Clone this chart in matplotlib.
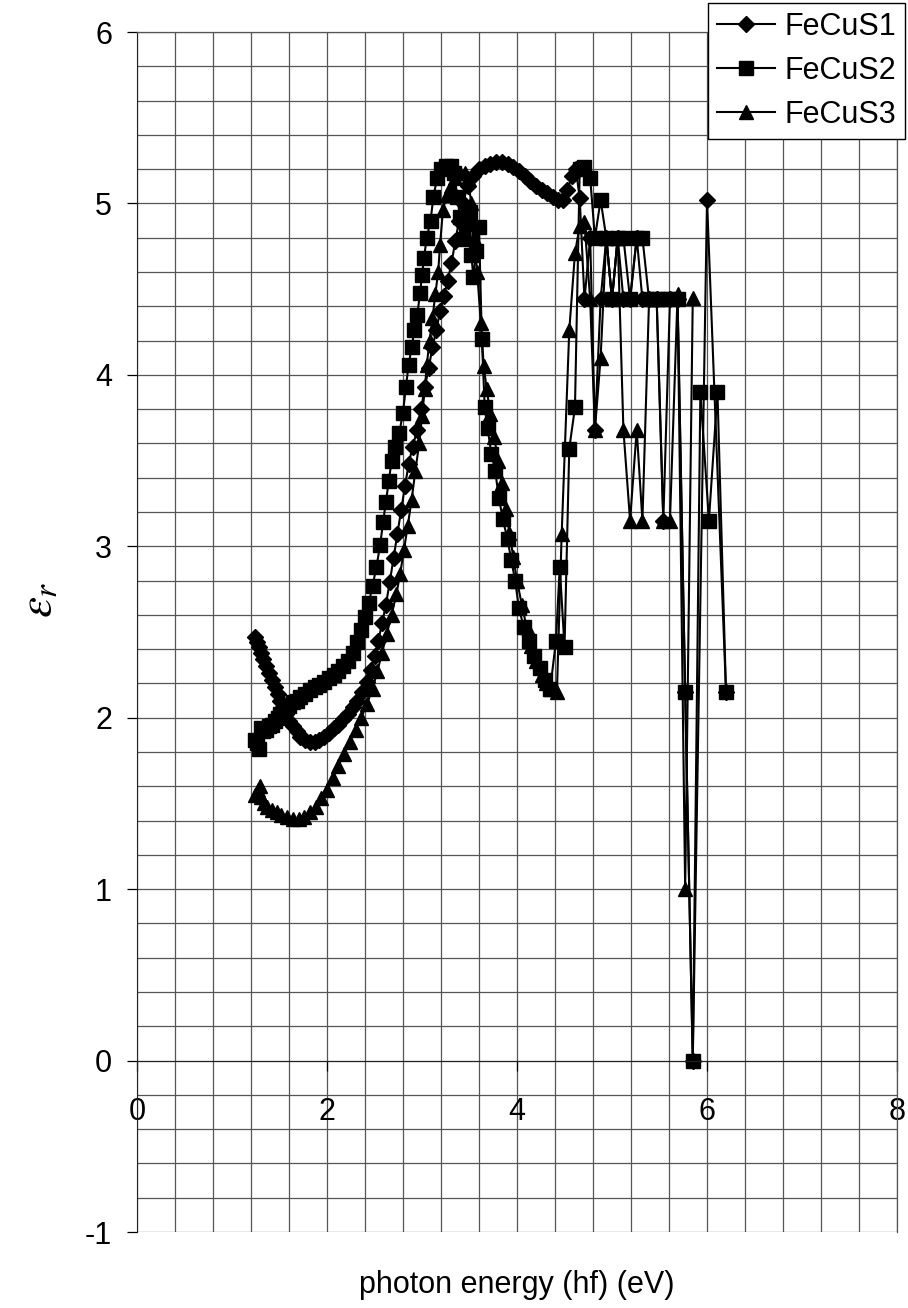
"""
Relative permittivity vs photon energy for FeCuS samples.
"""

import matplotlib.pyplot as plt
from matplotlib.ticker import MultipleLocator

plt.rcParams["font.family"] = ["Liberation Sans", "DejaVu Sans"]
plt.rcParams["axes.unicode_minus"] = False
plt.rcParams["mathtext.fontset"] = "stix"

# ---- data ----
fecus1_x = [1.24, 1.26, 1.28, 1.30, 1.33, 1.36, 1.39, 1.42, 1.45, 1.48, 1.51, 1.54,
            1.57, 1.60, 1.64, 1.68, 1.72, 1.77, 1.82, 1.87, 1.92, 1.97, 2.02, 2.07,
            2.12, 2.17, 2.22, 2.27, 2.32, 2.37, 2.42, 2.46, 2.50, 2.54, 2.58, 2.62,
            2.66, 2.70, 2.74, 2.78, 2.82, 2.86, 2.90, 2.95, 2.99, 3.03, 3.07, 3.11,
            3.15, 3.19, 3.23, 3.27, 3.31, 3.35, 3.39, 3.43, 3.48, 3.54, 3.60, 3.66,
            3.72, 3.78, 3.84, 3.90, 3.96, 4.02, 4.08, 4.14, 4.20, 4.26, 4.32, 4.38,
            4.43, 4.48, 4.53, 4.58, 4.62, 4.66, 4.71, 4.77, 4.82, 4.88, 4.94, 5.00,
            5.06, 5.12, 5.19, 5.26, 5.32, 5.39, 5.47, 5.54, 5.61, 5.69, 5.77, 5.85,
            6.00, 6.20]
fecus1_y = [2.47, 2.44, 2.41, 2.38, 2.34, 2.30, 2.26, 2.22, 2.18, 2.14, 2.10, 2.06,
            2.02, 1.98, 1.95, 1.92, 1.89, 1.87, 1.86, 1.86, 1.87, 1.89, 1.91, 1.94,
            1.96, 1.99, 2.02, 2.06, 2.10, 2.15, 2.21, 2.28, 2.36, 2.45, 2.55, 2.66,
            2.79, 2.93, 3.07, 3.21, 3.35, 3.48, 3.58, 3.68, 3.80, 3.93, 4.04, 4.16,
            4.26, 4.37, 4.46, 4.55, 4.65, 4.78, 4.90, 5.00, 5.10, 5.16, 5.20, 5.22,
            5.23, 5.24, 5.24, 5.23, 5.21, 5.19, 5.16, 5.13, 5.10, 5.08, 5.06, 5.04,
            5.02, 5.02, 5.08, 5.16, 5.20, 5.03, 4.44, 4.80, 3.68, 4.44, 4.80, 4.44,
            4.80, 4.44, 4.44, 4.80, 4.44, 4.44, 4.44, 3.15, 4.44, 4.44, 2.15, 0.00,
            5.02, 2.15]

fecus2_x = [1.24, 1.26, 1.28, 1.30, 1.33, 1.36, 1.39, 1.42, 1.45, 1.48, 1.51, 1.54,
            1.57, 1.60, 1.64, 1.68, 1.72, 1.77, 1.82, 1.87, 1.92, 1.97, 2.02, 2.07,
            2.12, 2.17, 2.22, 2.27, 2.32, 2.36, 2.40, 2.44, 2.48, 2.52, 2.56, 2.59,
            2.62, 2.65, 2.68, 2.72, 2.76, 2.80, 2.83, 2.86, 2.89, 2.92, 2.95, 2.98,
            3.00, 3.02, 3.05, 3.09, 3.12, 3.16, 3.20, 3.25, 3.30, 3.34, 3.37, 3.40,
            3.43, 3.46, 3.50, 3.52, 3.54, 3.57, 3.60, 3.63, 3.66, 3.69, 3.73, 3.77,
            3.81, 3.85, 3.90, 3.94, 3.98, 4.02, 4.07, 4.13, 4.18, 4.24, 4.29, 4.35,
            4.41, 4.45, 4.50, 4.55, 4.61, 4.66, 4.71, 4.77, 4.82, 4.88, 4.94, 5.00,
            5.06, 5.12, 5.19, 5.26, 5.32, 5.39, 5.47, 5.54, 5.61, 5.69, 5.77, 5.85,
            5.93, 6.02, 6.11, 6.20]
fecus2_y = [1.87, 1.85, 1.82, 1.94, 1.92, 1.93, 1.95, 1.96, 1.98, 2.00, 2.02, 2.04,
            2.06, 2.07, 2.09, 2.10, 2.12, 2.14, 2.16, 2.18, 2.19, 2.21, 2.23, 2.25,
            2.27, 2.30, 2.33, 2.38, 2.44, 2.51, 2.59, 2.67, 2.77, 2.88, 3.01, 3.14,
            3.26, 3.38, 3.50, 3.58, 3.66, 3.78, 3.93, 4.06, 4.16, 4.26, 4.35, 4.48,
            4.58, 4.68, 4.80, 4.90, 5.04, 5.15, 5.20, 5.22, 5.22, 5.18, 5.04, 4.92,
            4.79, 4.88, 4.95, 4.70, 4.57, 4.72, 4.86, 4.21, 3.81, 3.69, 3.54, 3.44,
            3.28, 3.16, 3.04, 2.92, 2.80, 2.64, 2.53, 2.45, 2.36, 2.29, 2.22, 2.17,
            2.45, 2.88, 2.41, 3.57, 3.81, 5.20, 5.21, 5.15, 4.80, 5.02, 4.80, 4.44,
            4.80, 4.80, 4.44, 4.80, 4.80, 4.44, 4.44, 4.44, 4.44, 4.44, 2.15, 0.00,
            3.90, 3.15, 3.90, 2.15]

fecus3_x = [1.24, 1.27, 1.29, 1.31, 1.34, 1.37, 1.42, 1.47, 1.52, 1.58, 1.64, 1.70,
            1.76, 1.82, 1.88, 1.94, 2.00, 2.06, 2.12, 2.18, 2.24, 2.30, 2.36, 2.42,
            2.48, 2.53, 2.58, 2.63, 2.68, 2.73, 2.77, 2.81, 2.85, 2.89, 2.93, 2.97,
            3.00, 3.03, 3.05, 3.08, 3.11, 3.14, 3.17, 3.19, 3.22, 3.26, 3.30, 3.35,
            3.40, 3.45, 3.48, 3.52, 3.55, 3.58, 3.62, 3.65, 3.68, 3.72, 3.76, 3.80,
            3.84, 3.88, 3.92, 3.96, 4.00, 4.05, 4.10, 4.15, 4.20, 4.26, 4.31, 4.36,
            4.42, 4.47, 4.55, 4.61, 4.66, 4.71, 4.77, 4.82, 4.88, 4.94, 5.00, 5.06,
            5.12, 5.19, 5.26, 5.32, 5.39, 5.47, 5.54, 5.61, 5.69, 5.77, 5.85]
fecus3_y = [1.55, 1.58, 1.60, 1.54, 1.50, 1.48, 1.46, 1.45, 1.43, 1.42, 1.41, 1.41,
            1.42, 1.45, 1.48, 1.53, 1.58, 1.65, 1.72, 1.79, 1.86, 1.93, 2.00, 2.08,
            2.17, 2.27, 2.38, 2.49, 2.60, 2.72, 2.84, 2.98, 3.12, 3.27, 3.44, 3.60,
            3.76, 3.92, 4.06, 4.20, 4.33, 4.47, 4.60, 4.76, 4.96, 5.05, 5.10, 5.15,
            5.18, 5.18, 5.15, 5.00, 4.80, 4.60, 4.30, 4.05, 3.92, 3.77, 3.64, 3.50,
            3.37, 3.22, 3.08, 2.94, 2.80, 2.66, 2.53, 2.42, 2.33, 2.25, 2.20, 2.17,
            2.15, 3.07, 4.26, 4.71, 4.87, 4.89, 4.44, 3.68, 4.10, 4.80, 4.44, 4.80,
            3.68, 3.15, 3.68, 3.15, 4.44, 4.44, 3.15, 3.15, 4.47, 1.00, 4.45]

fig, ax = plt.subplots(figsize=(9.08, 13.08), dpi=100)
fig.subplots_adjust(left=0.1509, right=0.9879, top=0.9755, bottom=0.0581)

style = dict(color="black", linewidth=1.5, markerfacecolor="black",
             markeredgecolor="black")
ax.plot(fecus1_x, fecus1_y, marker="D", markersize=8, label="FeCuS1", **style)
ax.plot(fecus2_x, fecus2_y, marker="s", markersize=9.5, label="FeCuS2", **style)
ax.plot(fecus3_x, fecus3_y, marker="^", markersize=10, label="FeCuS3", **style)

ax.set_xlim(0, 8)
ax.set_ylim(-1, 6)
ax.xaxis.set_major_locator(MultipleLocator(2))
ax.xaxis.set_minor_locator(MultipleLocator(0.4))
ax.yaxis.set_major_locator(MultipleLocator(1))
ax.yaxis.set_minor_locator(MultipleLocator(0.2))
ax.grid(which="both", color="#555555", linewidth=0.9)
ax.set_axisbelow(True)

# x axis crosses at y = 0
ax.spines["bottom"].set_position(("data", 0))
ax.spines["bottom"].set_color("#222222")
ax.spines["left"].set_color("#222222")
for side in ("top", "right"):
    ax.spines[side].set_color("#555555")
    ax.spines[side].set_linewidth(0.9)

ax.tick_params(axis="x", which="major", direction="out", length=7, width=0.9,
               pad=19, labelsize=22)
ax.tick_params(axis="y", which="major", direction="out", length=7, width=0.9,
               pad=11, labelsize=22)
ax.tick_params(which="minor", length=0)

fig.text(517 / 908, 1 - 1285 / 1308, "photon energy (hf) (eV)", fontsize=22,
         ha="center", va="center")
fig.text(40 / 908, 1 - 600 / 1308, r"$\varepsilon_r$", fontsize=34,
         rotation=90, ha="center", va="center")

leg = ax.legend(loc="upper right", bbox_to_anchor=(905 / 908, 1 - 3 / 1308),
                bbox_transform=fig.transFigure, borderaxespad=0, fontsize=22,
                fancybox=False, framealpha=1, edgecolor="black",
                handlelength=1.9, handletextpad=0.3, labelspacing=0.45,
                borderpad=0.3)
leg.get_frame().set_linewidth(1.0)

plt.savefig("out.png", dpi=100)
plt.close()
